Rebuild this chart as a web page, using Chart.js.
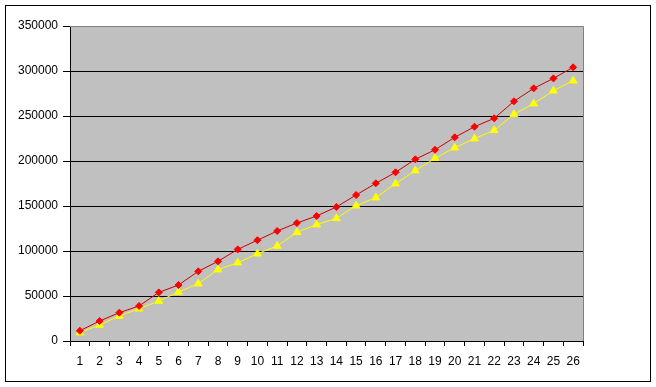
<!DOCTYPE html>
<html>
<head>
<meta charset="utf-8">
<script src="https://cdn.jsdelivr.net/npm/chart.js@4"></script>
<style>
  html, body { margin: 0; padding: 0; background: #ffffff; }
  #wrap { width: 656px; height: 387px; position: relative; }
</style>
</head>
<body>
<div id="wrap"><canvas id="chart"></canvas></div>
<script>
var categories = ['1','2','3','4','5','6','7','8','9','10','11','12','13','14','15','16','17','18','19','20','21','22','23','24','25','26'];
var redSeries = [11400, 22200, 31500, 38900, 54000, 62200, 77400, 88500, 101800, 112000, 122200, 131100, 138900,
                 148900, 162200, 175200, 187400, 201900, 212500, 226300, 238100, 247400, 266300, 280700, 291800, 304100];
var yellowSeries = [9300, 17800, 27800, 35900, 44400, 54400, 63700, 79300, 87000, 97000, 105600, 120800, 129300,
                    136300, 150400, 159300, 174800, 189300, 203000, 214800, 224800, 234100, 251900, 263700, 278100, 289200];
var yMax = 350000;
var yStep = 50000;

// grey plot area + outer frame, excel style
var framePlugin = {
    id: 'frame',
    beforeDraw: function (chart) {
        var ctx = chart.ctx, a = chart.chartArea;
        ctx.save();
        ctx.fillStyle = '#ffffff';
        ctx.fillRect(0, 0, chart.width, chart.height);
        ctx.fillStyle = '#c0c0c0';
        ctx.fillRect(a.left, a.top, a.right - a.left, a.bottom - a.top);
        ctx.strokeStyle = '#000000';
        ctx.lineWidth = 1;
        ctx.strokeRect(5.5, 5.5, 645, 376);
        ctx.restore();
    },
    beforeDatasetsDraw: function (chart) {
        var ctx = chart.ctx, a = chart.chartArea;
        ctx.save();
        ctx.strokeStyle = '#808080';
        ctx.lineWidth = 1;
        ctx.beginPath();
        ctx.moveTo(a.left, a.top + 0.5);
        ctx.lineTo(a.right + 0.5, a.top + 0.5);
        ctx.lineTo(a.right + 0.5, a.bottom);
        ctx.stroke();
        ctx.restore();
    }
};

new Chart(document.getElementById('chart'), {
    type: 'line',
    data: {
        labels: categories,
        datasets: [
            {
                data: redSeries,
                borderColor: '#cc0000',
                borderWidth: 1,
                pointStyle: 'rectRot',
                pointRadius: 3.5,
                pointBackgroundColor: '#ff0000',
                pointBorderColor: '#ff0000',
                pointBorderWidth: 1,
                tension: 0
            },
            {
                data: yellowSeries,
                borderColor: '#ffff00',
                borderWidth: 1,
                pointStyle: 'triangle',
                pointRadius: 4.5,
                pointBackgroundColor: '#ffff00',
                pointBorderColor: '#ffff00',
                pointBorderWidth: 1,
                tension: 0
            }
        ]
    },
    options: {
        responsive: true,
        maintainAspectRatio: false,
        animation: false,
        layout: { padding: { left: 0, top: 26, right: 73, bottom: 0 } },
        plugins: {
            legend: { display: false },
            tooltip: { enabled: false }
        },
        scales: {
            x: {
                offset: true,
                grid: {
                    offset: true,
                    drawOnChartArea: false,
                    drawTicks: true,
                    tickLength: 5,
                    color: '#000000'
                },
                border: { color: '#000000', width: 1 },
                ticks: {
                    color: '#000000',
                    padding: 8,
                    maxRotation: 0,
                    autoSkip: false,
                    font: { family: 'Liberation Sans', size: 12 }
                },
                afterFit: function (scale) { scale.height = 46; }
            },
            y: {
                min: 0,
                max: yMax,
                ticks: {
                    stepSize: yStep,
                    color: '#000000',
                    padding: 5,
                    font: { family: 'Liberation Sans', size: 12 },
                    callback: function (v) { return String(v); }
                },
                grid: {
                    color: function (c) { return c.tick && c.tick.value === yMax ? 'rgba(0,0,0,0)' : '#000000'; },
                    tickColor: '#000000',
                    tickLength: 7,
                    lineWidth: 1
                },
                border: { color: '#000000', width: 1 },
                afterFit: function (scale) { scale.width = 70; }
            }
        }
    },
    plugins: [framePlugin]
});
</script>
</body>
</html>
